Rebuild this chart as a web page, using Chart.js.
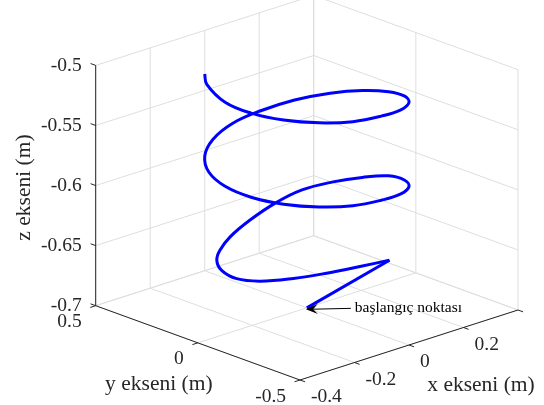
<!DOCTYPE html>
<html>
<head>
<meta charset="utf-8">
<script src="https://cdn.jsdelivr.net/npm/chart.js@4.4.1/dist/chart.umd.min.js"></script>
<style>
  html, body { margin: 0; padding: 0; background: #fff; overflow: hidden; }
</style>
</head>
<body>
<canvas id="c" width="544" height="405"></canvas>
<script>
// trajectory (m): başlangıç noktası first, then the spiral
const xData = [0, 0.088, -0.029, -0.130, -0.210, -0.270, -0.296, -0.300, -0.281, -0.247, -0.181, -0.078, 0.034, 0.133, 0.211, 0.266,
  0.300, 0.282, 0.230, 0.150, 0.052, -0.052, -0.150, -0.230, -0.282, -0.300, -0.282, -0.230, -0.150, -0.052, 0.052, 0.150, 0.230, 0.282,
  0.300, 0.282, 0.230, 0.150, 0.052, -0.052, -0.150, -0.230, -0.282, -0.300, -0.272, -0.240];
const yData = [0, -0.287, -0.299, -0.270, -0.214, -0.131, -0.051, 0.017, 0.066, 0.096, 0.134, 0.174, 0.202, 0.201, 0.153, 0.084,
  0.000, -0.103, -0.193, -0.260, -0.295, -0.295, -0.260, -0.193, -0.103, 0.000, 0.103, 0.193, 0.260, 0.295, 0.295, 0.260, 0.193, 0.103,
  0.000, -0.103, -0.193, -0.260, -0.295, -0.295, -0.260, -0.193, -0.103, 0.000, 0.127, 0.180];
const zData = [-0.700, -0.649, -0.645, -0.645, -0.647, -0.650, -0.651, -0.648, -0.644, -0.640, -0.636, -0.632, -0.628, -0.624, -0.620, -0.616,
  -0.612, -0.608, -0.604, -0.600, -0.596, -0.593, -0.589, -0.585, -0.581, -0.577, -0.573, -0.569, -0.565, -0.561, -0.558, -0.554, -0.550, -0.546,
  -0.542, -0.538, -0.534, -0.530, -0.526, -0.523, -0.519, -0.515, -0.511, -0.507, -0.502, -0.499];

// axis limits and ticks
const xLim = [-0.4, 0.4];
const yLim = [-0.5, 0.5];
const zLim = [-0.7, -0.5];
const xTicks = [-0.4, -0.2, 0, 0.2, 0.4];
const xTickLabels = ["-0.4", "-0.2", "0", "0.2", ""];
const yTicks = [0.5, 0, -0.5];
const yTickLabels = ["0.5", "0", "-0.5"];
const zTicks = [-0.7, -0.65, -0.6, -0.55, -0.5];
const zTickLabels = ["-0.7", "-0.65", "-0.6", "-0.55", "-0.5"];

// görünüm: (xmin, ymin, zmin) köşesinin pikseli ve her eksenin tam aralık vektörü
const view = { ox: 300, oy: 380, ex: [218, -70], ey: [-204.3, -74.3], ez: [0, -240.3] };

function proj(x, y, z) {
  const u = (x - xLim[0]) / (xLim[1] - xLim[0]);
  const v = (y - yLim[0]) / (yLim[1] - yLim[0]);
  const w = (z - zLim[0]) / (zLim[1] - zLim[0]);
  return {
    x: view.ox + u * view.ex[0] + v * view.ey[0] + w * view.ez[0],
    y: view.oy + u * view.ex[1] + v * view.ey[1] + w * view.ez[1]
  };
}

const gridColor = "#dedede";
const axisColor = "#262626";
const datasets = [];

function seg(p, q, color, order) {
  datasets.push({
    data: [proj(p[0], p[1], p[2]), proj(q[0], q[1], q[2])],
    showLine: true, borderColor: color, borderWidth: 1, pointRadius: 0, tension: 0, order: order
  });
}

// ızgara: zemin ve arka duvarlar
xTicks.forEach(x => {
  seg([x, yLim[0], zLim[0]], [x, yLim[1], zLim[0]], gridColor, 3);
  seg([x, yLim[1], zLim[0]], [x, yLim[1], zLim[1]], gridColor, 3);
});
yTicks.forEach(y => {
  seg([xLim[0], y, zLim[0]], [xLim[1], y, zLim[0]], gridColor, 3);
  seg([xLim[1], y, zLim[0]], [xLim[1], y, zLim[1]], gridColor, 3);
});
zTicks.forEach(z => {
  seg([xLim[0], yLim[1], z], [xLim[1], yLim[1], z], gridColor, 3);
  seg([xLim[1], yLim[0], z], [xLim[1], yLim[1], z], gridColor, 3);
});

// eksen çizgileri ve tik işaretleri
seg([xLim[0], yLim[1], zLim[0]], [xLim[0], yLim[1], zLim[1]], axisColor, 2);
seg([xLim[0], yLim[1], zLim[0]], [xLim[0], yLim[0], zLim[0]], axisColor, 2);
seg([xLim[0], yLim[0], zLim[0]], [xLim[1], yLim[0], zLim[0]], axisColor, 2);
zTicks.forEach(z => seg([xLim[0], yLim[1], z], [xLim[0], yLim[1] + 0.025, z], axisColor, 2));
yTicks.forEach(y => seg([xLim[0], y, zLim[0]], [xLim[0] - 0.02, y, zLim[0]], axisColor, 2));
xTicks.forEach(x => seg([x, yLim[0], zLim[0]], [x, yLim[0] - 0.025, zLim[0]], axisColor, 2));

// yörünge
const pts = xData.map((x, i) => proj(x, yData[i], zData[i]));
datasets.push({
  data: pts.slice(0, 2), showLine: true, borderColor: "#0000ff", borderWidth: 3,
  pointRadius: 0, tension: 0, order: 0
});
datasets.push({
  data: pts.slice(1), showLine: true, borderColor: "#0000ff", borderWidth: 3,
  pointRadius: 0, tension: 0.4, order: 0, borderCapStyle: "butt", borderJoinStyle: "round"
});

const labelPlugin = {
  id: "labels3d",
  afterDatasetsDraw(chart) {
    const ctx = chart.ctx;
    ctx.save();
    ctx.fillStyle = axisColor;
    ctx.font = "19.5px 'Liberation Serif', 'Times New Roman', serif";

    // z tick etiketleri
    ctx.textAlign = "right";
    ctx.textBaseline = "middle";
    zTicks.forEach((z, i) => {
      const p = proj(xLim[0], yLim[1], z);
      ctx.fillText(zTickLabels[i], p.x - 14, p.y);
    });
    // y tick etiketleri
    yTicks.forEach((y, i) => {
      const p = proj(xLim[0], y, zLim[0]);
      ctx.fillText(yTickLabels[i], p.x - 14, p.y + 16.5);
    });
    // x tick etiketleri
    ctx.textAlign = "left";
    xTicks.forEach((x, i) => {
      const p = proj(x, yLim[0], zLim[0]);
      ctx.fillText(xTickLabels[i], p.x + 11, p.y + 17);
    });

    // eksen başlıkları
    ctx.font = "21.5px 'Liberation Serif', 'Times New Roman', serif";
    ctx.textAlign = "center";
    const xm = proj((xLim[0] + xLim[1]) / 2, yLim[0], zLim[0]);
    ctx.fillText("x ekseni (m)", xm.x + 72, xm.y + 40);
    const ym = proj(xLim[0], (yLim[0] + yLim[1]) / 2, zLim[0]);
    ctx.fillText("y ekseni (m)", ym.x - 39, ym.y + 42);
    const zm = proj(xLim[0], yLim[1], (zLim[0] + zLim[1]) / 2);
    ctx.save();
    ctx.translate(zm.x - 71, zm.y + 2);
    ctx.rotate(-Math.PI / 2);
    ctx.fillText("z ekseni (m)", 0, 0);
    ctx.restore();

    // başlangıç noktası oku
    const s = proj(xData[0], yData[0], zData[0]);
    const tip = { x: s.x - 1, y: s.y + 1.5 };
    const tail = { x: tip.x + 45, y: tip.y - 1 };
    const dx = tip.x - tail.x, dy = tip.y - tail.y;
    const len = Math.hypot(dx, dy), ux = dx / len, uy = dy / len;
    const L = 12, W = 5;
    ctx.strokeStyle = "#000";
    ctx.fillStyle = "#000";
    ctx.lineWidth = 1;
    ctx.beginPath();
    ctx.moveTo(tail.x, tail.y);
    ctx.lineTo(tip.x - ux * L * 0.6, tip.y - uy * L * 0.6);
    ctx.stroke();
    ctx.beginPath();
    ctx.moveTo(tip.x, tip.y);
    ctx.lineTo(tip.x - ux * L - uy * W, tip.y - uy * L + ux * W);
    ctx.lineTo(tip.x - ux * L * 0.6, tip.y - uy * L * 0.6);
    ctx.lineTo(tip.x - ux * L + uy * W, tip.y - uy * L - ux * W);
    ctx.closePath();
    ctx.fill();
    ctx.font = "15.5px 'Liberation Serif', 'Times New Roman', serif";
    ctx.textAlign = "left";
    ctx.textBaseline = "middle";
    ctx.fillText("başlangıç noktası", tail.x + 4, tail.y);
    ctx.restore();
  }
};

new Chart(document.getElementById("c"), {
  type: "scatter",
  data: { datasets: datasets },
  options: {
    responsive: false,
    animation: false,
    events: [],
    layout: { padding: 0 },
    plugins: { legend: { display: false }, tooltip: { enabled: false } },
    scales: {
      x: { type: "linear", min: 0, max: 544, display: false },
      y: { type: "linear", min: 0, max: 405, reverse: true, display: false }
    }
  },
  plugins: [labelPlugin]
});
</script>
</body>
</html>
